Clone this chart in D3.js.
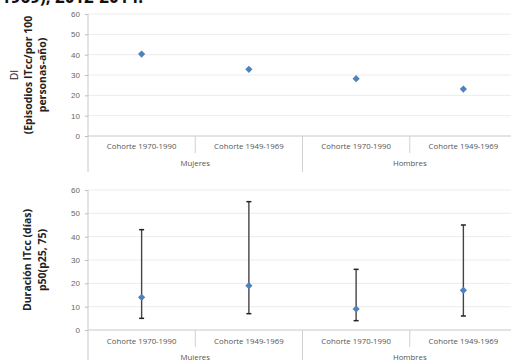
<!DOCTYPE html>
<html>
<head>
<meta charset="utf-8">
<script src="https://cdn.jsdelivr.net/npm/d3@7"></script>
<style>
  body { margin: 0; background: #fff; }
  svg { display: block; font-family: "Open Sans", "Liberation Sans", sans-serif; }
</style>
</head>
<body>
<svg id="chart" width="511" height="360"></svg>
<script>
const categories = ['Cohorte 1970-1990', 'Cohorte 1949-1969', 'Cohorte 1970-1990', 'Cohorte 1949-1969'];
const groups = ['Mujeres', 'Hombres'];
const diValues = [40.3, 32.8, 28.2, 23.1];
const p50 = [14, 19, 9, 17];
const p25 = [5, 7, 4, 6];
const p75 = [43, 55, 26, 45];
const yTicks = [0, 10, 20, 30, 40, 50, 60];

const svg = d3.select('#chart');
const left = 88, right = 517;
const blue = '#4f81bd';

// title cut off at top of the picture
svg.append('text')
  .attr('x', 1).attr('y', 3)
  .attr('font-size', 17).attr('font-weight', 'bold').attr('fill', '#111')
  .text('1969), 2012-2014.');

const x = d3.scaleBand().domain(d3.range(categories.length)).range([left, right]);
const cx = i => x(i) + x.bandwidth() / 2;

const panel = (y0, y1, axisEnd, labelY, groupY, labelLines, labelX) => {
  const y = d3.scaleLinear().domain([0, 60]).range([y1, y0]);
  const g = svg.append('g');

  g.selectAll('line.grid').data(yTicks.slice(1)).enter().append('line')
    .attr('x1', left).attr('x2', right)
    .attr('y1', d => y(d)).attr('y2', d => y(d))
    .attr('stroke', '#ececec').attr('stroke-width', 1);

  const yAxis = d3.axisLeft(y).tickValues(yTicks).tickSize(3).tickPadding(5);
  const ya = g.append('g').attr('transform', `translate(${left},0)`).call(yAxis);
  ya.select('.domain').remove();
  ya.selectAll('line').attr('stroke', '#bbb');
  ya.selectAll('text').attr('font-size', 8).attr('fill', '#666').attr('font-family', 'inherit');

  g.append('line').attr('x1', left).attr('x2', left).attr('y1', y0).attr('y2', axisEnd)
    .attr('stroke', '#c8c8c8');
  g.append('line').attr('x1', left).attr('x2', right).attr('y1', y1).attr('y2', y1)
    .attr('stroke', '#c8c8c8');

  // separators
  [1, 3].forEach(i => g.append('line')
    .attr('x1', x(i)).attr('x2', x(i)).attr('y1', y1).attr('y2', y1 + 17)
    .attr('stroke', '#d0d0d0'));
  g.append('line').attr('x1', x(2)).attr('x2', x(2)).attr('y1', y1).attr('y2', axisEnd)
    .attr('stroke', '#d0d0d0');

  g.selectAll('text.cat').data(categories).enter().append('text')
    .attr('x', (d, i) => cx(i)).attr('y', labelY)
    .attr('text-anchor', 'middle').attr('font-size', 7.8).attr('fill', '#555')
    .text(d => d);
  g.selectAll('text.grp').data(groups).enter().append('text')
    .attr('x', (d, i) => x(i * 2) + x.bandwidth())
    .attr('y', groupY)
    .attr('text-anchor', 'middle').attr('font-size', 7.8).attr('fill', '#555')
    .text(d => d);

  const cy = (y0 + y1) / 2;
  labelLines.forEach((ln, i) => {
    g.append('text')
      .attr('transform', `translate(${labelX[i]},${cy}) rotate(-90)`)
      .attr('text-anchor', 'middle').attr('font-size', 10.5)
      .attr('font-weight', ln.bold ? 'bold' : 'normal').attr('fill', '#222')
      .text(ln.t);
  });
  return { g, y };
};

const diamond = d3.symbol().type(d3.symbolSquare).size(26);

const upper = panel(14, 136, 172, 149, 166,
  [{ t: 'DI', bold: false }, { t: '(Episodios ITcc/por 100', bold: true }, { t: 'personas-año)', bold: true }],
  [18, 32, 46]);
upper.g.selectAll('path.pt').data(diValues).enter().append('path')
  .attr('d', diamond)
  .attr('transform', (d, i) => `translate(${cx(i)},${upper.y(d)}) rotate(45)`)
  .attr('fill', blue);

const lower = panel(190, 330, 362, 344, 360,
  [{ t: 'Duración ITcc  (días)', bold: true }, { t: 'p50(p25, 75)', bold: true }],
  [31, 46]);
lower.g.selectAll('line.err').data(p50).enter().append('line')
  .attr('x1', (d, i) => cx(i)).attr('x2', (d, i) => cx(i))
  .attr('y1', (d, i) => lower.y(p25[i])).attr('y2', (d, i) => lower.y(p75[i]))
  .attr('stroke', '#444').attr('stroke-width', 1.4);
[p25, p75].forEach(arr => lower.g.selectAll(null).data(arr).enter().append('line')
  .attr('x1', (d, i) => cx(i) - 2.5).attr('x2', (d, i) => cx(i) + 2.5)
  .attr('y1', d => lower.y(d)).attr('y2', d => lower.y(d))
  .attr('stroke', '#222').attr('stroke-width', 1.5));
lower.g.selectAll('path.pt').data(p50).enter().append('path')
  .attr('d', diamond)
  .attr('transform', (d, i) => `translate(${cx(i)},${lower.y(d)}) rotate(45)`)
  .attr('fill', blue);
</script>
</body>
</html>
